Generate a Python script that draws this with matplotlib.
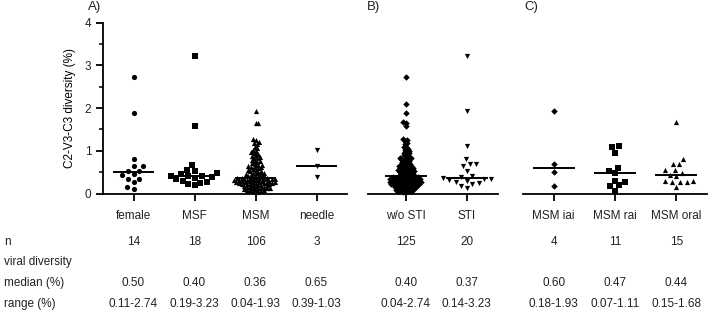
import numpy as np
import matplotlib.pyplot as plt
from matplotlib.transforms import blended_transform_factory

plt.rcParams['font.family'] = ['Liberation Sans', 'DejaVu Sans']
plt.rcParams['font.size'] = 8.5
plt.rcParams['text.color'] = '#222222'
plt.rcParams['xtick.labelcolor'] = '#222222'
plt.rcParams['ytick.labelcolor'] = '#222222'

# ---- data (% diversity) ----
female = [2.74, 1.88, 0.80, 0.64, 0.64, 0.52, 0.52, 0.46, 0.43, 0.35, 0.35, 0.28, 0.15, 0.11]
msf = [3.23, 1.57, 0.66, 0.55, 0.52, 0.48, 0.45, 0.42, 0.40, 0.40, 0.38, 0.36, 0.33, 0.30,
       0.28, 0.25, 0.22, 0.19]
msm = [1.93, 1.66, 1.64, 1.27, 1.25, 1.21, 1.18, 1.15, 1.10, 1.06, 1.03, 1.00,
       0.97, 0.95, 0.93, 0.90, 0.88, 0.86, 0.84, 0.82,
       0.79, 0.77, 0.75, 0.73, 0.71, 0.69, 0.67, 0.66, 0.64, 0.63, 0.62, 0.61,
       0.59, 0.57, 0.56, 0.55, 0.53, 0.52, 0.50, 0.49, 0.48, 0.47, 0.46,
       0.45, 0.44, 0.43, 0.42, 0.41, 0.40, 0.39, 0.38, 0.37, 0.37,
       0.36, 0.36, 0.35, 0.35, 0.34, 0.34, 0.33, 0.33, 0.32, 0.32, 0.31, 0.31, 0.30, 0.30,
       0.29, 0.29, 0.28, 0.28, 0.27, 0.27, 0.26, 0.26, 0.25, 0.25, 0.24, 0.24, 0.23, 0.23,
       0.22, 0.22, 0.21, 0.21,
       0.20, 0.19, 0.18, 0.17, 0.16, 0.16, 0.15, 0.14, 0.14, 0.13, 0.12, 0.12, 0.11, 0.10,
       0.09, 0.08, 0.08, 0.07, 0.06, 0.05, 0.04]
needle = [1.03, 0.65, 0.39]

wo_sti = [2.74, 2.09, 1.89, 1.68, 1.66, 1.57, 1.27, 1.25, 1.22, 1.18, 1.15, 1.10, 1.08, 1.05, 1.03, 1.00,
          0.98, 0.96, 0.94, 0.92, 0.90, 0.88, 0.86, 0.84, 0.82, 0.81,
          0.80, 0.79, 0.77, 0.75, 0.74, 0.72, 0.70, 0.69, 0.67, 0.66, 0.65, 0.64, 0.63, 0.62, 0.61,
          0.60, 0.59, 0.58, 0.57, 0.56, 0.55, 0.54, 0.53, 0.52, 0.51, 0.50, 0.49, 0.48, 0.47,
          0.46, 0.45, 0.44, 0.43, 0.42, 0.42, 0.41,
          0.40,
          0.39, 0.39, 0.38, 0.38, 0.37, 0.37, 0.36, 0.36, 0.35, 0.35, 0.34, 0.34, 0.33, 0.33,
          0.32, 0.32, 0.31, 0.31, 0.30, 0.30, 0.29, 0.29, 0.28, 0.28, 0.27, 0.27, 0.26, 0.26,
          0.25, 0.25, 0.24, 0.24, 0.23, 0.23, 0.22, 0.22, 0.21, 0.21, 0.20, 0.20,
          0.19, 0.19, 0.18, 0.17, 0.16, 0.16, 0.15, 0.14, 0.14, 0.13, 0.12, 0.11, 0.11, 0.10,
          0.09, 0.08, 0.07, 0.07, 0.06, 0.05, 0.04, 0.04]
sti = [3.23, 1.94, 1.11, 0.80, 0.70, 0.68, 0.65, 0.52, 0.40, 0.38,
       0.36, 0.35, 0.34, 0.32, 0.30, 0.28, 0.25, 0.22, 0.18, 0.14]

msm_iai = [1.93, 0.70, 0.50, 0.18]
msm_rai = [1.11, 1.09, 0.95, 0.60, 0.52, 0.47, 0.30, 0.27, 0.19, 0.17, 0.07]
msm_oral = [1.68, 0.80, 0.70, 0.68, 0.56, 0.54, 0.49, 0.44, 0.41, 0.30, 0.29, 0.28, 0.27, 0.26, 0.15]

a_cats = ['female', 'MSF', 'MSM', 'needle']
a_n = ['14', '18', '106', '3']
a_median = [0.50, 0.40, 0.36, 0.65]
a_range = ['0.11-2.74', '0.19-3.23', '0.04-1.93', '0.39-1.03']

b_cats = ['w/o STI', 'STI']
b_n = ['125', '20']
b_median = [0.40, 0.37]
b_range = ['0.04-2.74', '0.14-3.23']

c_cats = ['MSM iai', 'MSM rai', 'MSM oral']
c_n = ['4', '11', '15']
c_median = [0.60, 0.47, 0.44]
c_range = ['0.18-1.93', '0.07-1.11', '0.15-1.68']

row_labels = ['n', 'viral diversity', 'median (%)', 'range (%)']

# ---- figure ----
W, H = 711, 315
fig = plt.figure(figsize=(W / 100, H / 100), dpi=100)


def px_axes(x0, x1, ytop, ybot):
    return fig.add_axes([x0 / W, 1 - ybot / H, (x1 - x0) / W, (ybot - ytop) / H])


axA = px_axes(103, 347, 22.7, 193.5)
axB = px_axes(368, 498, 22.7, 193.5)
axC = px_axes(523, 707, 22.7, 193.5)
axA.set_xlim(-0.5, 3.5)
axB.set_xlim(-0.62, 1.51)
axC.set_xlim(-0.5, 2.5)


def swarm(ax, xc, values, d):
    # simple beeswarm in pixel space, points kept as close to the centre as possible
    vals = np.asarray(values, float)
    pts = ax.transData.transform(np.column_stack([np.full(len(vals), xc), vals]))
    cx = pts[0, 0]
    placed = []
    out = np.empty(len(vals))
    for i in np.argsort(vals):
        y = pts[i, 1]
        cands = [cx]
        for px, py in placed:
            dy = abs(py - y)
            if dy < d:
                dx = np.sqrt(d * d - dy * dy)
                cands += [px - dx, px + dx]
        cands.sort(key=lambda c: abs(c - cx))
        for c in cands:
            if all((c - px) ** 2 + (y - py) ** 2 >= d * d - 1e-6 for px, py in placed):
                break
        placed.append((c, y))
        out[i] = c
    return ax.transData.inverted().transform(np.column_stack([out, pts[:, 1]]))[:, 0]


panels = [
    (axA, a_cats, [female, msf, msm, needle], ['o', 's', '^', 'v'], a_n, a_median, a_range),
    (axB, b_cats, [wo_sti, sti], ['D', 'v'], b_n, b_median, b_range),
    (axC, c_cats, [msm_iai, msm_rai, msm_oral], ['D', 's', '^'], c_n, c_median, c_range),
]

for ax, cats, groups, markers, ns, meds, rngs in panels:
    ax.set_ylim(0, 4)
    for i, (vals, m) in enumerate(zip(groups, markers)):
        if len(vals) > 110:
            d = 2.6
        elif len(vals) > 50:
            d = 3.0
        else:
            d = 6.5
        xs = swarm(ax, i, vals, d)
        ax.scatter(xs, vals, marker=m, s=11 if m == 'D' else 14, color='black',
                   linewidths=0, zorder=3, clip_on=False)
        ax.hlines(meds[i], i - 0.34, i + 0.34, color='black', lw=1.4, zorder=4)
    ax.set_xticks(range(len(cats)))
    ax.set_xticklabels(cats)
    ax.tick_params(axis='x', length=5, width=1.3, pad=7, colors='black', labelsize=8.5,
                   labelcolor='#222222')
    for s in ['top', 'right']:
        ax.spines[s].set_visible(False)
    ax.spines['bottom'].set_linewidth(1.3)
    ax.spines['left'].set_linewidth(1.3)
    ax.patch.set_alpha(0)
    tr = blended_transform_factory(ax.transData, fig.transFigure)
    for i in range(len(cats)):
        fig.text(i, 1 - 242 / H, ns[i], transform=tr, ha='center', va='center')
        fig.text(i, 1 - 283 / H, f'{meds[i]:.2f}', transform=tr, ha='center', va='center')
        fig.text(i, 1 - 304 / H, rngs[i], transform=tr, ha='center', va='center')

axA.set_yticks([0, 1, 2, 3, 4])
axA.set_yticks([0.5, 1.5, 2.5, 3.5], minor=True)
axA.tick_params(axis='y', which='major', length=5, width=1.3, labelsize=8.5)
axA.tick_params(axis='y', which='minor', length=3, width=1.1)
axA.set_ylabel('C2-V3-C3 diversity (%)', fontsize=8.5)
axA.yaxis.set_label_coords(-0.11, 0.5)
for ax in [axB, axC]:
    ax.spines['left'].set_visible(False)
    ax.set_yticks([])

for lab, yy in zip(row_labels, [242, 262, 283, 304]):
    fig.text(4 / W, 1 - yy / H, lab, ha='left', va='center')

fig.text(88 / W, 1 - 7 / H, 'A)', fontsize=9.5, va='center')
fig.text(367 / W, 1 - 7 / H, 'B)', fontsize=9.5, va='center')
fig.text(524 / W, 1 - 7 / H, 'C)', fontsize=9.5, va='center')

fig.savefig('out.png', dpi=100)
